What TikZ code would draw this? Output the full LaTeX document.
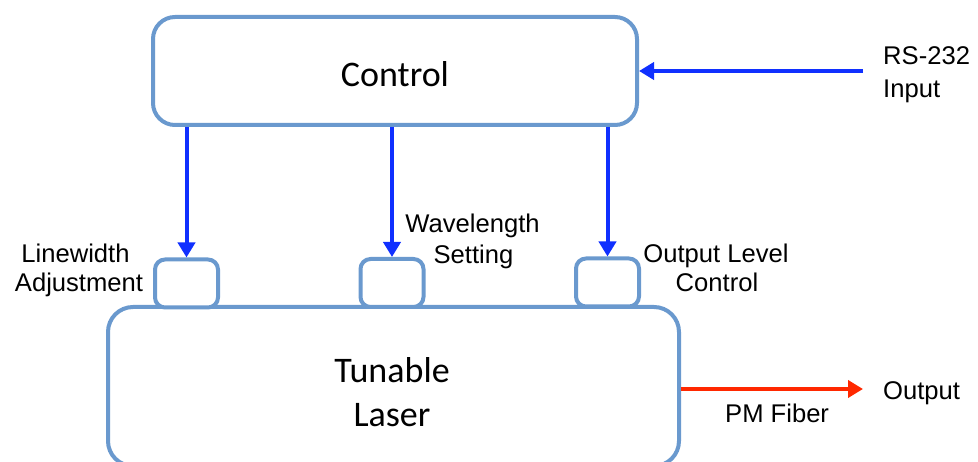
\documentclass[tikz,border=0pt]{standalone}
\usepackage{fontspec}
\setmainfont{Liberation Sans}
\newfontfamily\calfont{Carlito}
\usetikzlibrary{arrows.meta}
\definecolor{boxblue}{RGB}{106,153,206}
\definecolor{arrblue}{RGB}{16,48,255}
\definecolor{arrred}{RGB}{255,40,0}
\tikzset{
  bigbox/.style={draw=boxblue, line width=4pt, rounded corners=22pt, fill=white, inner sep=0pt},
  portbox/.style={draw=boxblue, line width=4pt, rounded corners=10pt, fill=white, minimum width=63pt, minimum height=48pt, inner sep=0pt},
  bluearrow/.style={draw=arrblue, line width=4pt, -{Triangle[length=15pt,width=17pt]}},
  redarrow/.style={draw=arrred, line width=4pt, -{Triangle[length=15pt,width=17pt]}},
  bigtext/.style={font=\calfont\fontsize{36}{44}\selectfont, inner sep=0pt, align=center},
  smalltext/.style={font=\fontsize{25.6}{30}\selectfont, inner sep=0pt},
}
\begin{document}
\begin{tikzpicture}[x=1pt,y=-1pt]
\useasboundingbox (0,0) rectangle (978,462);
\clip (0,0) rectangle (978,462);
% boxes
\node[bigbox, minimum width=484pt, minimum height=108pt] (ctrl) at (395,71) {};
\node[bigbox, rounded corners=25pt, minimum width=571pt, minimum height=159pt] (laser) at (393.5,386.5) {};
\node[portbox] (s1) at (186.5,283.5) {};
\node[portbox] (s2) at (392,283) {};
\node[portbox] (s3) at (607.5,282.5) {};
% texts
\node[bigtext, anchor=base] (ctrltxt) at (395,86.7) {Control};
\node[bigtext, anchor=base] (lasertxt1) at (392,383) {Tunable};
\node[bigtext, anchor=base] (lasertxt2) at (392,427) {Laser};
\node[smalltext, anchor=base] (lw1) at (75.5,263) {Linewidth};
\node[smalltext, anchor=base] (lw2) at (79,292) {Adjustment};
\node[smalltext, anchor=base] (wl1) at (472.5,233) {Wavelength};
\node[smalltext, anchor=base] (wl2) at (473.5,264) {Setting};
\node[smalltext, anchor=base] (ol1) at (716,263) {Output Level};
\node[smalltext, anchor=base] (ol2) at (717,292) {Control};
\node[smalltext, anchor=base west] (rs1) at (883,65) {RS-232};
\node[smalltext, anchor=base west] (rs2) at (883,98) {Input};
\node[smalltext, anchor=base west] (out) at (883,400) {Output};
\node[smalltext, anchor=base west] (pm) at (725,423) {PM Fiber};
% connectors
\draw[bluearrow] (ctrl.south -| s1.north) -- (s1.north);
\draw[bluearrow] (ctrl.south -| s2.north) -- (s2.north);
\draw[bluearrow] (ctrl.south -| s3.north) -- (s3.north);
\coordinate (rsin) at (863,71);
\draw[bluearrow] (rsin) -- (rsin -| ctrl.east);
\coordinate (outend) at (863,389);
\draw[redarrow] (laser.east |- outend) -- (outend);
\end{tikzpicture}
\end{document}
